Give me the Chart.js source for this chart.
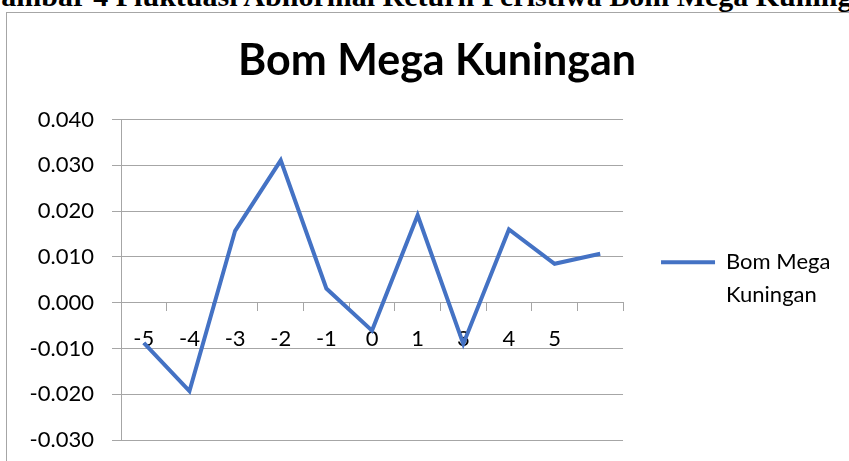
<!DOCTYPE html>
<html>
<head>
<meta charset="utf-8">
<script src="https://cdn.jsdelivr.net/npm/chart.js@4.4.1/dist/chart.umd.min.js"></script>
<style>
  html, body { margin: 0; padding: 0; background: #fff; overflow: hidden; }
  #page { position: relative; width: 849px; height: 461px; overflow: hidden; }
  #caption {
    position: absolute; left: -22px; top: -19px; white-space: nowrap;
    font: bold 30px "Liberation Serif", "DejaVu Serif", serif; line-height: 30px; color: #000;
  }
  #frame {
    position: absolute; left: 6px; top: 12px; width: 900px; height: 500px;
    border: 1px solid #a6a6a6; box-sizing: border-box;
  }
  #myChart { position: absolute; left: 0; top: 0; }
</style>
</head>
<body>
<div id="page">
  <div id="caption">Gambar 4 Fluktuasi Abnormal Return Peristiwa Bom Mega Kuningan</div>
  <div id="frame"></div>
  <canvas id="myChart" width="849" height="461"></canvas>
</div>
<script>
// data
const chartTitle = 'Bom Mega Kuningan';
const seriesName = 'Bom Mega Kuningan';
// legend wraps onto two lines; trailing space keeps Chart.js measuring the wider line
const legendLines = ['Bom Mega ', 'Kuningan'];
const days = ['-5', '-4', '-3', '-2', '-1', '0', '1', '3', '4', '5', ''];
const abnormalReturn = [-0.0088, -0.0193, 0.0157, 0.0311, 0.0031, -0.0061, 0.0191, -0.0090, 0.0160, 0.0085, 0.0107];
const yMin = -0.03;
const yMax = 0.04;
const yStep = 0.01;

const gridGray = '#a6a6a6';
const lineBlue = '#4472C4';
const fontFamily = 'Lato, "Open Sans", sans-serif';

const ctx = document.getElementById('myChart');

var myChart = new Chart(ctx, {
    type: 'line',
    data: {
        labels: days,
        datasets: [{
            label: seriesName,
            data: abnormalReturn,
            borderColor: lineBlue,
            backgroundColor: lineBlue,
            borderWidth: 4,
            pointRadius: 0,
            tension: 0,
            fill: false
        }]
    },
    options: {
        responsive: false,
        animation: false,
        layout: {
            padding: { left: 28, right: 3, top: 0, bottom: 21 }
        },
        plugins: {
            title: {
                display: true,
                text: chartTitle,
                color: '#000',
                font: { family: fontFamily, size: 43, weight: 'bold', lineHeight: 1.2 },
                padding: { top: 35, bottom: 33 }
            },
            legend: {
                position: 'right',
                align: 'center',
                fullSize: false,
                maxWidth: 300,
                title: {
                    display: true,
                    text: '',
                    font: { size: 9, lineHeight: 1 },
                    padding: 0
                },
                labels: {
                    usePointStyle: true,
                    pointStyle: 'line',
                    pointStyleWidth: 54,
                    padding: 38,
                    color: '#000',
                    font: { family: fontFamily, size: 22, lineHeight: 1.5 },
                    generateLabels: function (chart) {
                        const items = Chart.defaults.plugins.legend.labels.generateLabels(chart);
                        items.forEach(function (item) { item.text = legendLines; });
                        return items;
                    }
                }
            },
            tooltip: { enabled: false }
        },
        scales: {
            x: {
                type: 'category',
                position: { y: 0 },
                offset: true,
                grid: {
                    display: true,
                    offset: true,
                    drawOnChartArea: false,
                    drawTicks: true,
                    tickLength: 8,
                    color: gridGray
                },
                border: { display: true, color: gridGray, width: 1 },
                ticks: {
                    color: '#000',
                    padding: 15,
                    maxRotation: 0,
                    autoSkip: false,
                    font: { family: fontFamily, size: 22 }
                }
            },
            y: {
                min: yMin,
                max: yMax,
                afterFit: function (scale) {
                    scale.width = 93;
                    scale.paddingTop = 0;
                    scale.paddingBottom = 0;
                },
                grid: {
                    color: gridGray,
                    drawTicks: true,
                    tickLength: 9
                },
                border: { display: true, color: gridGray, width: 1 },
                ticks: {
                    stepSize: yStep,
                    color: '#000',
                    padding: 18,
                    font: { family: fontFamily, size: 22 },
                    callback: function (value) { return Number(value).toFixed(3); }
                }
            }
        }
    }
});
</script>
</body>
</html>
